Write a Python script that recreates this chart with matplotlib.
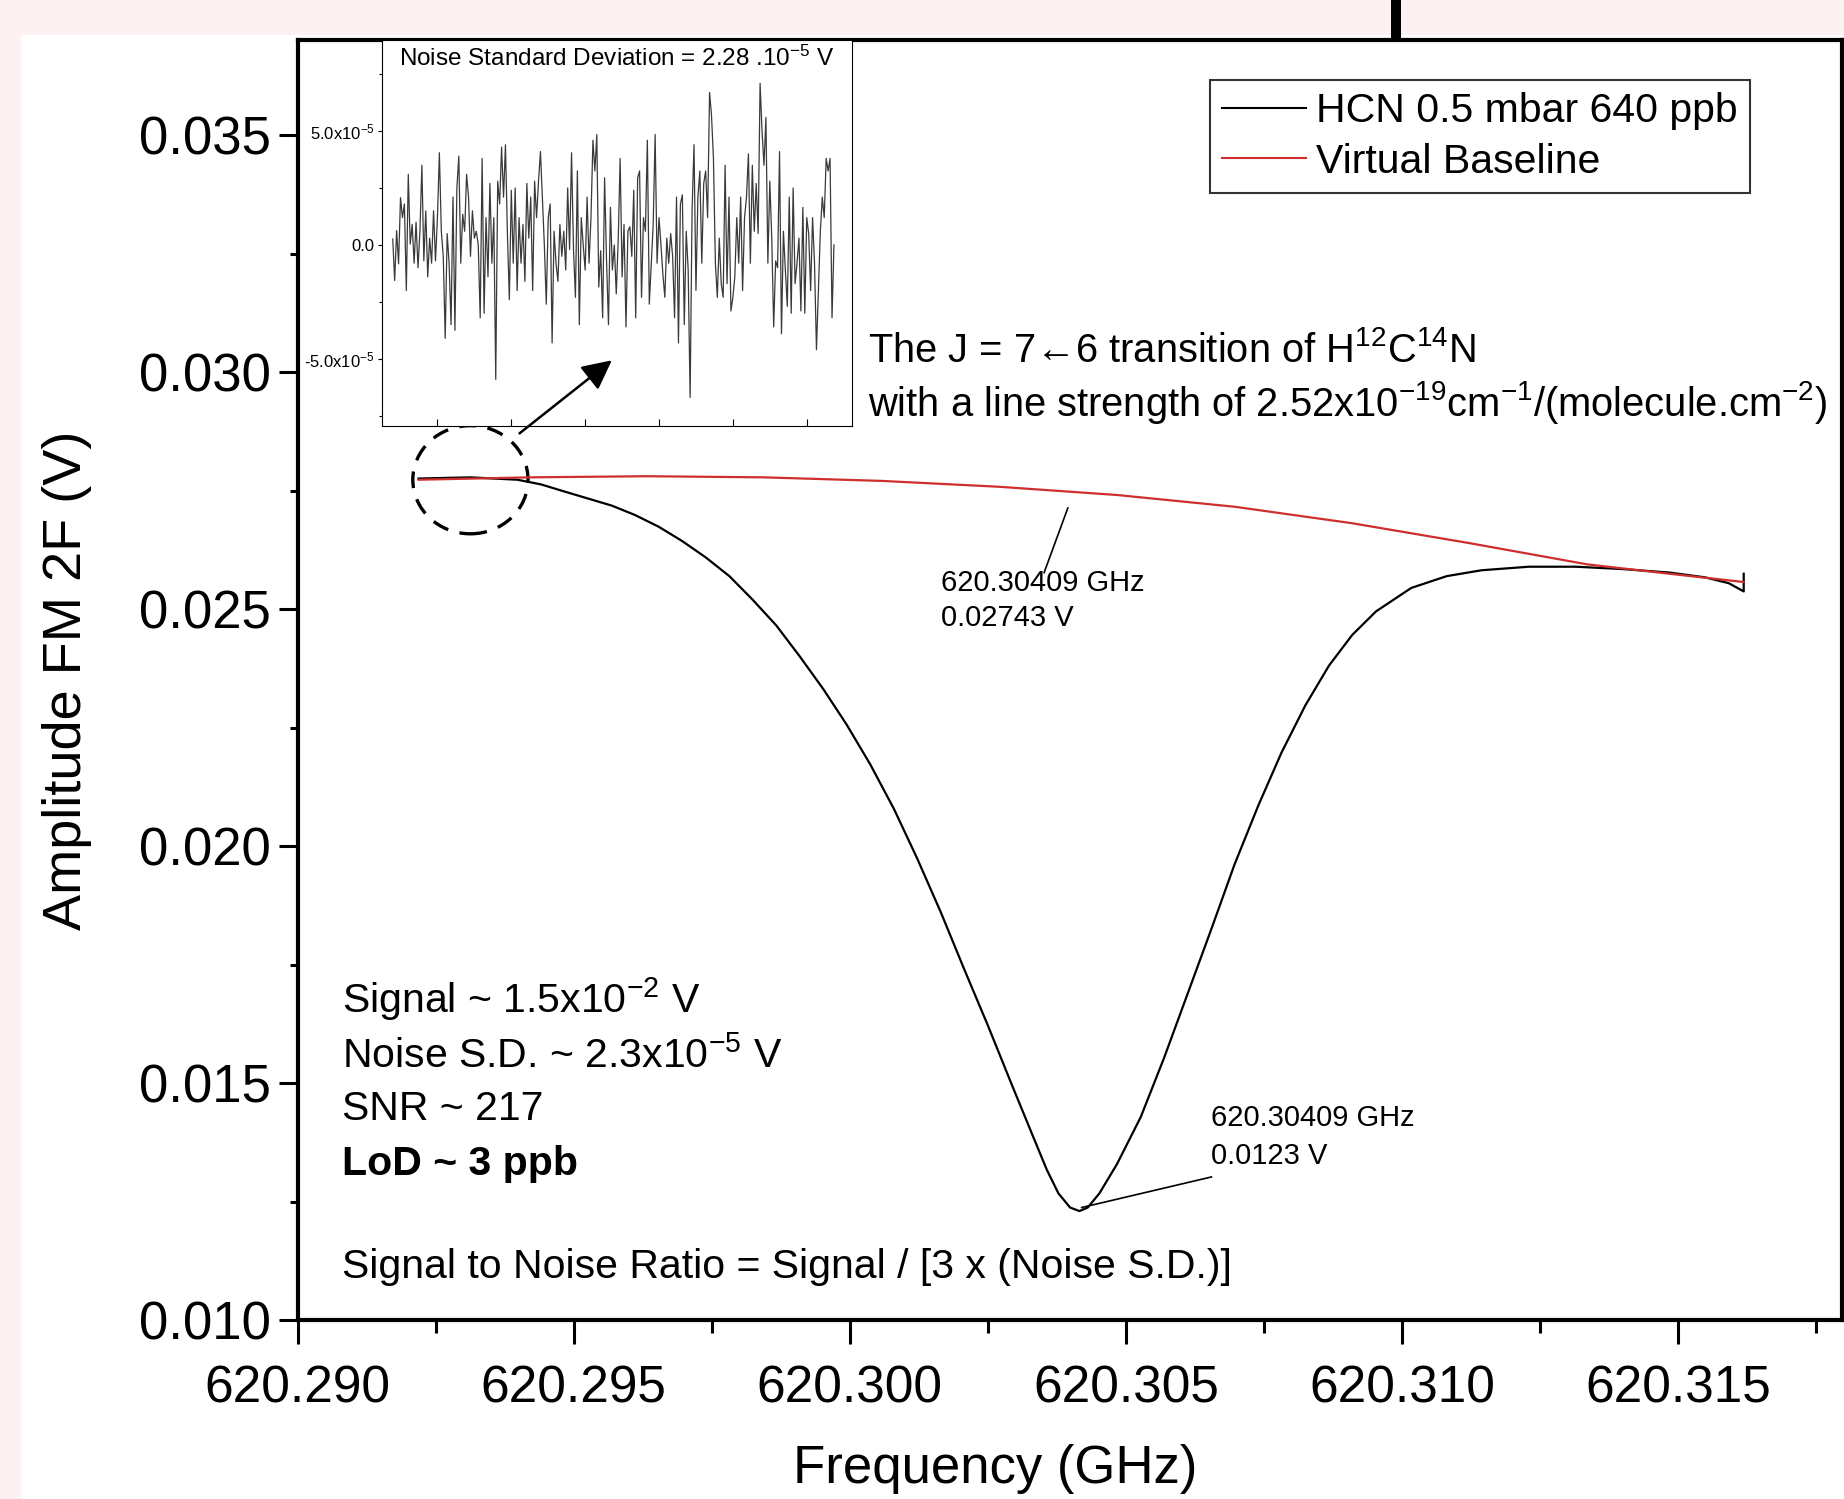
import numpy as np
import matplotlib
matplotlib.use("Agg")
import matplotlib.pyplot as plt
from matplotlib.patches import Ellipse, Rectangle
from matplotlib.ticker import MultipleLocator, FormatStrFormatter, FixedLocator

plt.rcParams['font.family'] = ['Liberation Sans', 'DejaVu Sans']
plt.rcParams['mathtext.fontset'] = 'custom'
plt.rcParams['mathtext.rm'] = 'Liberation Sans'
plt.rcParams['mathtext.it'] = 'Liberation Sans:italic'
plt.rcParams['mathtext.bf'] = 'Liberation Sans:bold'
plt.rcParams['mathtext.default'] = 'regular'

# HCN 2F signal (GHz, V)
freq_hcn = [620.29219, 620.29313, 620.29398, 620.29441, 620.29483, 620.29526, 620.29569,
            620.29611, 620.29654, 620.29696, 620.29739, 620.29782, 620.29824, 620.29867,
            620.29909, 620.29952, 620.29994, 620.30037, 620.30080, 620.30122, 620.30165,
            620.30207, 620.30250, 620.30293, 620.30335, 620.30357, 620.30378, 620.30399,
            620.30416, 620.30431, 620.30452, 620.30484, 620.30527, 620.30569, 620.30612,
            620.30655, 620.30697, 620.30740, 620.30782, 620.30825, 620.30868, 620.30910,
            620.30953, 620.31017, 620.31081, 620.31144, 620.31230, 620.31315, 620.31400,
            620.31485, 620.31549, 620.31592, 620.31619, 620.31619]
amp_hcn = [0.027758, 0.027783, 0.027733, 0.027634, 0.027485, 0.027336, 0.027187,
           0.026989, 0.026741, 0.026443, 0.026096, 0.025699, 0.025203, 0.024658,
           0.024013, 0.023318, 0.022574, 0.021731, 0.020789, 0.019747, 0.018606,
           0.017415, 0.016225, 0.014985, 0.013794, 0.013174, 0.012678, 0.012381,
           0.012306, 0.012381, 0.012678, 0.013298, 0.014290, 0.015530, 0.016894,
           0.018259, 0.019623, 0.020863, 0.021979, 0.022971, 0.023814, 0.024459,
           0.024955, 0.025451, 0.025699, 0.025823, 0.025898, 0.025898, 0.025848,
           0.025774, 0.025674, 0.025550, 0.025377, 0.025750]

# virtual baseline
freq_base = [620.29219, 620.29420, 620.29632, 620.29845, 620.30058, 620.30271, 620.30484,
             620.30697, 620.30910, 620.31123, 620.31336, 620.31485, 620.31619]
amp_base = [0.027733, 0.027783, 0.027807, 0.027783, 0.027708, 0.027584, 0.027411,
            0.027163, 0.026815, 0.026394, 0.025947, 0.025749, 0.025575]

# inset noise trace, units of 1e-5 V
noise = [0.26, -1.56, 0.63, -0.83, 2.08, 1.2, 1.8, -2.0, 3.1, 0.04, 0.9, -0.8, 1.0, -1.0,
         0.6, 3.5, -0.7, 1.5, -1.4, 0.3, -0.8, 1.5, -0.7, 1.2, 4.05, 0.6, -0.5, -4.1, 0.5,
         -0.8, -3.5, 2.1, -3.75, 2.5, 3.9, -0.8, 1.35, 0.6, 3.1, 2.1, -0.5, 1.5, 0.3, 0.6,
         0.0, -3.2, 3.8, -3.0, 1.2, -1.4, 2.7, -0.8, 1.2, -5.9, 2.8, 1.8, 4.3, 2.1, 4.4,
         0.5, -2.4, 2.4, -0.8, 2.5, -2.0, 1.2, -0.8, 0.9, -1.6, 2.7, 0.3, 2.1, -2.0, 2.8,
         1.2, 2.8, 4.1, 2.1, 0.0, -2.6, 1.2, 1.8, -4.3, 0.6, -0.8, -1.6, 0.9, -0.5, 0.6,
         -1.1, 2.5, -0.2, 4.05, -0.2, -2.3, 3.25, -3.5, 1.2, 0.0, -1.1, 2.1, -0.8, 1.2,
         4.6, 3.25, 4.85, -1.85, -0.25, -3.2, 2.95, -0.7, -3.5, 1.65, -1.1, 0.0, -2.15,
         0.2, 3.8, -1.4, 0.9, -3.6, 0.6, 0.8, -0.5, 2.4, -3.2, 2.95, 3.25, -2.3, 1.2, 0.6,
         4.6, -2.6, -0.8, 0.9, 4.85, -0.8, 1.2, 0.0, -1.3, -2.3, 0.3, -0.8, 0.5, -0.5,
         -3.2, 2.1, -4.3, 1.8, 2.2, -3.5, 0.6, -1.1, -6.7, 1.5, 4.4, -2.0, 2.1, 3.25, -0.8,
         2.7, 3.25, 1.2, 6.7, 5.7, 3.8, -0.8, -2.3, 0.3, -1.7, -2.3, 3.5, -1.7, 2.1, -2.9,
         -2.3, -1.4, 1.2, -0.8, 2.1, -2.0, 1.2, 2.1, 4.0, -0.8, 3.5, 0.6, 2.7, 0.5, 7.1,
         5.0, 3.5, 5.6, -0.8, 2.8, 0.3, -3.6, -0.7, -1.0, 4.1, -3.9, 0.6, -1.1, -2.7, 2.1,
         -3.0, 2.5, -1.7, -0.8, 0.3, -2.9, 1.65, -3.0, 1.2, 0.5, -2.0, 1.2, -0.8, -4.6,
         -2.0, 0.6, 2.1, 1.2, 3.8, 3.25, 3.8, -3.2, 0.0]

noise_ticks = [5e-5, 0.0, -5e-5]
noise_tick_labels = ['5.0x10$^{-5}$', '0.0', '-5.0x10$^{-5}$']

W, H = 1844, 1499
fig = plt.figure(figsize=(W / 100, H / 100), dpi=100)
fig.patch.set_facecolor('#fdf2f1')
# white panel (the picture is a crop of a slide)
fig.patches.append(Rectangle((21 / W, 0), 1 - 21 / W, 1 - 35 / H, transform=fig.transFigure,
                             facecolor='white', edgecolor='none', zorder=-10))
fig.patches.append(Rectangle((1391 / W, 1 - 42 / H), 10 / W, 42 / H, transform=fig.transFigure,
                             facecolor='black', edgecolor='none', zorder=-10))

ax = fig.add_axes([297.6 / W, 1 - 1320.4 / H, (1842 - 297.6) / W, (1320.4 - 40.4) / H])
ax.set_facecolor('white')
ax.plot(freq_hcn, amp_hcn, color='black', lw=1.6, label='HCN 0.5 mbar 640 ppb')
ax.plot(freq_base, amp_base, color='#cf2e2e', lw=1.6, label='Virtual Baseline')

ax.set_xlim(620.290, 620.31797)
ax.set_ylim(0.010, 0.037)
ax.xaxis.set_major_locator(MultipleLocator(0.005))
ax.xaxis.set_minor_locator(MultipleLocator(0.0025))
ax.yaxis.set_major_locator(MultipleLocator(0.005))
ax.yaxis.set_minor_locator(MultipleLocator(0.0025))
ax.xaxis.set_major_formatter(FormatStrFormatter('%.3f'))
ax.yaxis.set_major_formatter(FormatStrFormatter('%.3f'))
ax.tick_params(axis='x', which='major', direction='out', length=17, width=2.2, labelsize=37, pad=15)
ax.tick_params(axis='x', which='minor', direction='out', length=9, width=2.2)
ax.tick_params(axis='y', which='major', direction='out', length=14, width=2.2, labelsize=38, pad=5)
ax.tick_params(axis='y', which='minor', direction='out', length=6, width=2.2)
for s in ax.spines.values():
    s.set_linewidth(3)
ax.set_xlabel('Frequency (GHz)', fontsize=38)
ax.xaxis.set_label_coords(0.4516, -0.0966)
ax.set_ylabel('Amplitude FM 2F (V)', fontsize=39, labelpad=34)

leg = ax.legend(loc='upper right', bbox_to_anchor=(1750 / W, 1 - 80 / H),
                bbox_transform=fig.transFigure, fontsize=29.5, frameon=True, fancybox=False,
                edgecolor='black', handlelength=2.05, handletextpad=0.25, labelspacing=0.3,
                borderpad=0.3, borderaxespad=0)
leg.get_frame().set_linewidth(1.5)
for ln in leg.get_lines():
    ln.set_linewidth(1.5)

ax.text(620.30033, 0.030461, 'The J = 7←6 transition of H$^{12}$C$^{14}$N',
        fontsize=28.7, va='center', ha='left')
ax.text(620.30033, 0.029370,
        'with a line strength of 2.52x10$^{-19}$cm$^{-1}$/(molecule.cm$^{-2}$)',
        fontsize=28.7, va='center', ha='left')

ax.text(620.29081, 0.016770, 'Signal ~ 1.5x10$^{-2}$ V', fontsize=29.5, va='center')
ax.text(620.29081, 0.015580, 'Noise S.D. ~ 2.3x10$^{-5}$ V', fontsize=29.5, va='center')
ax.text(620.29081, 0.014464, 'SNR ~ 217', fontsize=29.5, va='center')
ax.text(620.29081, 0.013298, 'LoD ~ 3 ppb', fontsize=29.5, va='center', fontweight='bold')
ax.text(620.29081, 0.011116, 'Signal to Noise Ratio = Signal / [3 x (Noise S.D.)]',
        fontsize=29.5, va='center')

# point labels with leader lines
ax.plot([620.30395, 620.30352], [0.027138, 0.025774], color='black', lw=1.2)
ax.text(620.30165, 0.025550, '620.30409 GHz', fontsize=21, va='center')
ax.text(620.30165, 0.024806, '0.02743 V', fontsize=21, va='center')
ax.plot([620.30420, 620.30655], [0.012381, 0.013026], color='black', lw=1.2)
ax.text(620.30655, 0.014266, '620.30409 GHz', fontsize=21, va='center')
ax.text(620.30655, 0.013472, '0.0123 V', fontsize=21, va='center')

# dashed circle around the zoomed region
ax.add_patch(Ellipse((620.29313, 0.027733), 0.002087, 0.002282, fill=False,
                     edgecolor='black', lw=2.4, linestyle=(0, (5, 3.5))))

# inset: noise
axi = fig.add_axes([381.7 / W, 1 - 426 / H, (851.6 - 381.7) / W, (426 - 40) / H])
axi.set_facecolor('white')
idx = np.arange(len(noise))
axi.plot(idx, np.array(noise) * 1e-5, color='#3a3a3a', lw=0.9)
n = len(noise) - 1
axi.set_xlim(-0.025 * n, 1.04 * n)
axi.set_ylim(-7.95e-5, 9.0e-5)
axi.yaxis.set_major_locator(FixedLocator(noise_ticks))
axi.set_yticklabels(noise_tick_labels)
axi.yaxis.set_minor_locator(MultipleLocator(2.5e-5))
axi.set_xticks(np.linspace(0.1, 0.94, 6) * n)
axi.tick_params(axis='x', direction='in', length=5, width=0.8, labelbottom=False)
axi.tick_params(axis='y', which='major', direction='out', length=3, width=0.8, labelsize=12, pad=2)
axi.tick_params(axis='y', which='minor', direction='out', length=2, width=0.8)
for s in axi.spines.values():
    s.set_linewidth(0.8)
axi.text(0.5, 0.985, 'Noise Standard Deviation = 2.28 .10$^{-5}$ V', transform=axi.transAxes,
         fontsize=17.5, ha='center', va='top')

# arrow from the circle to the inset, drawn over the inset
axi.annotate('', xy=(620.29573, 0.030288), xycoords=ax.transData,
             xytext=(620.29398, 0.028675), textcoords=ax.transData,
             arrowprops=dict(arrowstyle='-|>', color='black', lw=1.8, mutation_scale=45))

fig.savefig('out.png', dpi=100, facecolor=fig.get_facecolor())
